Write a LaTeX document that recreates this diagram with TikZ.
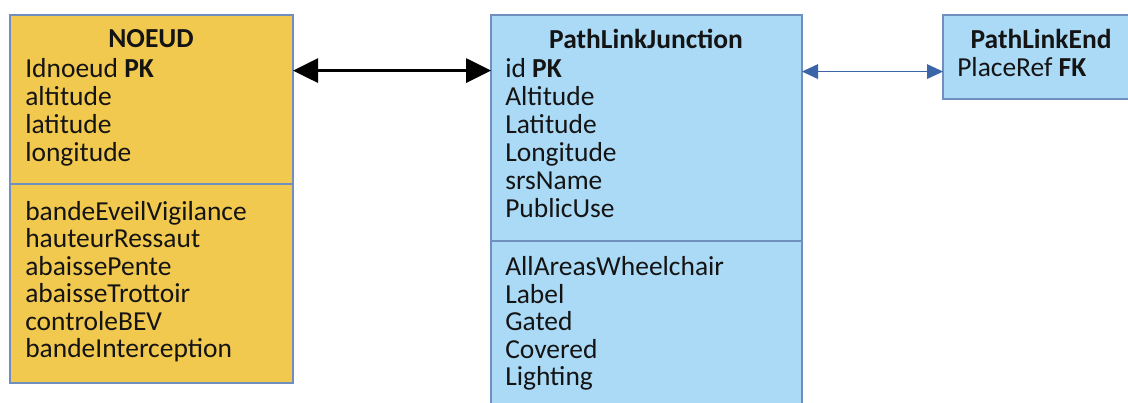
\documentclass[tikz,border=0pt]{standalone}
\usepackage{fontspec}
\setmainfont{Carlito}
\usetikzlibrary{arrows.meta,fit}
\definecolor{yel}{HTML}{F2C94F}
\definecolor{lblue}{HTML}{ABDAF6}
\definecolor{bord}{HTML}{6F8FBF}
\definecolor{arrblue}{HTML}{3A66A8}
\definecolor{txt}{HTML}{141414}
\begin{document}
\begin{tikzpicture}[x=0.75pt,y=-0.75pt,
  box/.style={draw=bord,line width=1.1pt,inner sep=0pt,outer sep=0pt},
  sepline/.style={draw=bord,line width=1.6pt},
  fld/.style={anchor=base west,inner sep=0pt,font=\fontsize{20.6}{24}\selectfont,text=txt},
  ttl/.style={anchor=base,inner sep=0pt,font=\fontsize{20.6}{24}\selectfont\bfseries,text=txt},
  bigarrow/.style={line width=2.4pt,black,{Triangle[length=18.75pt,width=18pt]}-{Triangle[length=18.75pt,width=18pt]}},
  thinarrow/.style={line width=0.8pt,arrblue,{Triangle[length=12pt,width=11pt]}-{Triangle[length=12pt,width=11pt]}}
]
\useasboundingbox (0,0) rectangle (1128,403);
% boxes
\node[box,fill=yel,fit={(10,15) (293,383)}] (noeud) {};
\node[box,fill=lblue,fit={(491,15) (802,412)}] (plj) {};
\node[box,fill=lblue,fit={(943,15) (1140,99)}] (ple) {};
\draw[sepline] (noeud.west |- 0,184) -- (noeud.east |- 0,184);
\draw[sepline] (plj.west |- 0,241) -- (plj.east |- 0,241);
% NOEUD
\node[ttl] (tnoeud) at (151,48) {NOEUD};
\node[fld] (idn) at (25,78) {Idnoeud \textbf{PK}};
\node[fld] (n2) at (25,106) {altitude};
\node[fld] (n3) at (25,133) {latitude};
\node[fld] (n4) at (25,161) {longitude};
\node[fld] (n5) at (25,220) {bandeEveilVigilance};
\node[fld] (n6) at (25,247) {hauteurRessaut};
\node[fld] (n7) at (25,275) {abaissePente};
\node[fld] (n8) at (25,302) {abaisseTrottoir};
\node[fld] (n9) at (25,330) {controleBEV};
\node[fld] (n10) at (25,357) {bandeInterception};
% PathLinkJunction
\node[ttl] (tplj) at (646,49) {PathLinkJunction};
\node[fld] (idpk) at (505,78) {id \textbf{PK}};
\node[fld] (j2) at (505,106) {Altitude};
\node[fld] (j3) at (505,133) {Latitude};
\node[fld] (j4) at (505,161) {Longitude};
\node[fld] (j5) at (505,189) {srsName};
\node[fld] (j6) at (505,217) {PublicUse};
\node[fld] (j7) at (505,275) {AllAreasWheelchair};
\node[fld] (j8) at (505,303) {Label};
\node[fld] (j9) at (505,330) {Gated};
\node[fld] (j10) at (505,358) {Covered};
\node[fld] (j11) at (505,385) {Lighting};
% PathLinkEnd
\node[ttl] (tple) at (1041,49) {PathLinkEnd};
\node[fld] (plref) at (957,77) {PlaceRef \textbf{FK}};
% connectors
\draw[bigarrow] ([yshift=-1.5pt]noeud.east |- idn.center) -- ([yshift=-1.5pt]plj.west |- idn.center);
\draw[thinarrow] ([yshift=-3pt]plj.east |- plref.center) -- ([yshift=-3pt]ple.west |- plref.center);
\end{tikzpicture}
\end{document}
